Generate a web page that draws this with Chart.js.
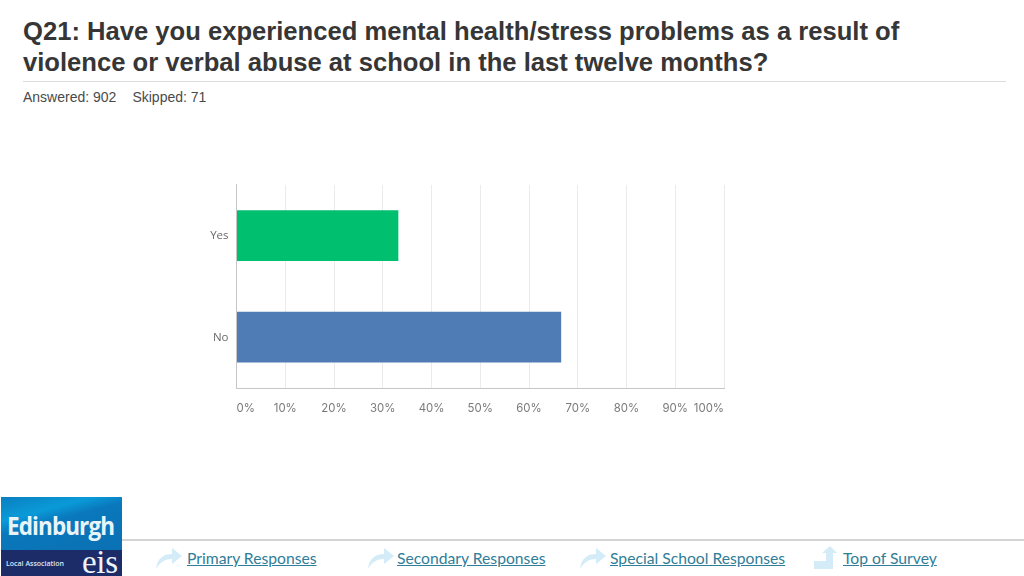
<!DOCTYPE html>
<html>
<head>
<meta charset="utf-8">
<script src="https://cdn.jsdelivr.net/npm/chart.js@4"></script>
<style>
    html, body { margin: 0; padding: 0; background: #fff; }
    #page { position: relative; width: 1024px; height: 576px; overflow: hidden; font-family: "Liberation Sans", sans-serif; }
    #title { position: absolute; left: 23px; top: 16px; font-size: 25.6px; line-height: 31px; font-weight: bold; color: #363636; white-space: nowrap; }
    #rule { position: absolute; left: 23px; top: 81px; width: 983px; height: 1px; background: #dcdcdc; }
    #stats { position: absolute; left: 23px; top: 89px; font-size: 14px; line-height: 16px; color: #4a4a4a; white-space: nowrap; }
    #stats span { margin-right: 16px; }
    #chart-wrap { position: absolute; left: 190px; top: 170px; width: 550px; height: 260px; }
    #footer-rule { position: absolute; left: 122px; top: 539px; width: 902px; height: 2px; background: #d4d4d4; }
    #logo { position: absolute; left: 1px; top: 497px; width: 121px; height: 79px; overflow: hidden;
        background: linear-gradient(165deg, #0a7fc0 0%, #0a9ad8 22%, #0a78bc 34%, #0a6cae 100%); }
    #logo .band { position: absolute; left: 0; top: 53px; width: 121px; height: 26px; background: #1c2c68; }
    #logo .name { position: absolute; left: 6px; top: 12px; font: bold 25px "Open Sans", sans-serif; letter-spacing: -1px; color: #e8f4fa; line-height: 32px; transform: scaleX(0.9); transform-origin: left; white-space: nowrap; }
    #logo .sub { position: absolute; left: 5px; top: 62px; font: 600 7px "Open Sans", sans-serif; color: #dfe6f2; line-height: 9px; white-space: nowrap; }
    #logo .eis { position: absolute; left: 81px; top: 50px; font: 33px "Liberation Serif", serif; letter-spacing: -0.3px; color: #eef2f8; line-height: 30px; }
    .link { position: absolute; top: 548px; font: 15.7px/20px Lato, sans-serif; color: #2f7d98; text-decoration: underline; white-space: nowrap; }
    .icon { position: absolute; }
</style>
</head>
<body>
<div id="page">
    <div id="title">Q21: Have you experienced mental health/stress problems as a result of<br>violence or verbal abuse at school in the last twelve months?</div>
    <div id="rule"></div>
    <div id="stats"><span>Answered: 902</span>Skipped: 71</div>
    <div id="chart-wrap"><canvas id="chart" width="550" height="260"></canvas></div>
    <div id="footer-rule"></div>
    <div id="logo">
        <div class="band"></div>
        <div class="name">Edinburgh</div>
        <div class="sub">Local Association</div>
        <div class="eis">eis</div>
    </div>
    <svg class="icon" style="left:155px;top:546px" width="28" height="24" viewBox="0 0 28 24"><path d="M1 23 C2 12 9 8 17 8 L17 2 L27 10 L17 18 L17 13 C10 13 5 16 1 23 Z" fill="#d3ecf8"/></svg>
    <a class="link" style="left:187px">Primary Responses</a>
    <svg class="icon" style="left:367px;top:546px" width="28" height="24" viewBox="0 0 28 24"><path d="M1 23 C2 12 9 8 17 8 L17 2 L27 10 L17 18 L17 13 C10 13 5 16 1 23 Z" fill="#d3ecf8"/></svg>
    <a class="link" style="left:397px">Secondary Responses</a>
    <svg class="icon" style="left:579px;top:546px" width="28" height="24" viewBox="0 0 28 24"><path d="M1 23 C2 12 9 8 17 8 L17 2 L27 10 L17 18 L17 13 C10 13 5 16 1 23 Z" fill="#d3ecf8"/></svg>
    <a class="link" style="left:610px">Special School Responses</a>
    <svg class="icon" style="left:813px;top:545px" width="24" height="25" viewBox="0 0 24 25"><path d="M1 24 L1 16 L13 16 L13 8 L9 8 L17 1 L24 8 L20 8 L20 24 Z" fill="#d3ecf8"/></svg>
    <a class="link" style="left:843px">Top of Survey</a>
</div>
<script>
const categories = ['Yes', 'No'];
const percentValues = [33.2, 66.6];
const barColors = ['#00bf6f', '#507cb6'];
const tickLabels = ['0%', '10%', '20%', '30%', '40%', '50%', '60%', '70%', '80%', '90%', '100%'];

new Chart(document.getElementById('chart'), {
    type: 'bar',
    data: {
        labels: categories,
        datasets: [{
            data: percentValues,
            backgroundColor: barColors,
            borderWidth: 0,
            barPercentage: 1,
            categoryPercentage: 0.5
        }]
    },
    options: {
        indexAxis: 'y',
        responsive: false,
        animation: false,
        layout: { padding: { top: 13, right: 16, left: 0, bottom: 0 } },
        plugins: { legend: { display: false }, tooltip: { enabled: false } },
        scales: {
            x: {
                min: 0,
                max: 100,
                afterFit: function(scale) { scale.height = 42; },
                afterBuildTicks: function(scale) {
                    scale.ticks = tickLabels.map(function(label, i) { return { value: i * 10 }; });
                },
                grid: { color: '#ebebeb', drawTicks: false },
                border: { color: '#c6c6c6' },
                ticks: {
                    align: 'inner',
                    maxRotation: 0,
                    autoSkip: false,
                    padding: 13.5,
                    color: '#7a7a7a',
                    font: { family: 'Inter', size: 11.4 },
                    callback: function(value, index) { return tickLabels[index]; }
                }
            },
            y: {
                afterFit: function(scale) { scale.width = 46.5; },
                grid: { display: false, drawTicks: false },
                border: { color: '#c6c6c6' },
                ticks: {
                    padding: 8,
                    color: '#6a6a6a',
                    font: { family: 'Open Sans', size: 11.5 }
                }
            }
        }
    }
});
</script>
</body>
</html>
